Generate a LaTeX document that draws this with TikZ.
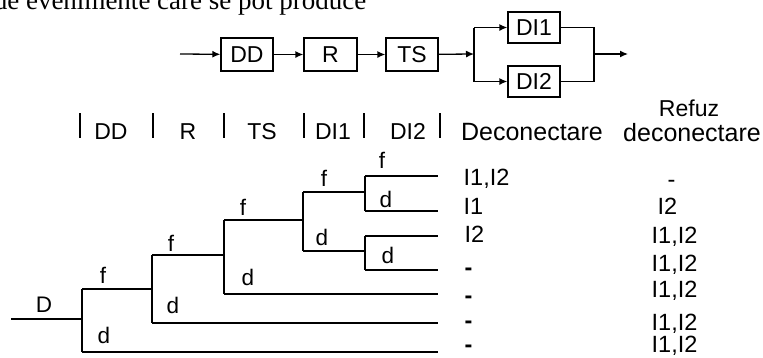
\documentclass[tikz,border=0pt]{standalone}
\usepackage{fontspec}
\setmainfont{Liberation Sans}
\newfontfamily\serifrm{Liberation Serif}
\usetikzlibrary{arrows.meta}
\begin{document}
\begin{tikzpicture}[x=1pt,y=-1pt, line width=1.3pt,
  txt/.style={inner sep=0pt, font=\fontsize{22.5}{24}\selectfont},
  res/.style={inner sep=0pt, anchor=base west, font=\fontsize{23.5}{25}\selectfont},
  hdr/.style={inner sep=0pt, anchor=base, font=\fontsize{23}{25}\selectfont},
  hdrw/.style={inner sep=0pt, anchor=base, font=\fontsize{25}{27}\selectfont},
  blk/.style={draw, minimum height=33pt, minimum width=52pt, inner sep=0pt, font=\fontsize{23}{25}\selectfont},
  blks/.style={blk, minimum height=31pt},
  arr/.style={-{Latex[length=8pt,width=7pt]}},
  sep/.style={line width=1.2pt},
]
\useasboundingbox (0,0) rectangle (763,357);
\clip (0,0) rectangle (763,357);
% title (cut off at the top)
\node[anchor=base east, inner sep=0pt, font=\serifrm\fontsize{27}{30}\selectfont] (title) at (367,9) {de evenimente care se pot produce};
% block diagram
\coordinate (in) at (180,54);
\node[blk] (DD) at (247,54.5) {DD};
\node[blk, minimum width=53pt] (R) at (330.5,54.5) {R};
\node[blk] (TS) at (412,54.5) {TS};
\coordinate (jL) at (474,54);
\coordinate (jLt) at (474,27.5);
\coordinate (jLb) at (474,81.5);
\node[blks] (DI1) at (534,27.5) {DI1};
\node[blks] (DI2) at (534,81.5) {DI2};
\coordinate (jR) at (594,54);
\coordinate (out) at (628,54);
\draw[arr] (in) -- (DD);
\draw[arr] (DD) -- (R);
\draw[arr] (R) -- (TS);
\draw[arr] (TS) -- (jL);
\draw (jLt) -- (jLb);
\draw[arr] (jLt) -- (DI1);
\draw[arr] (jLb) -- (DI2);
\draw (DI1.east) -| (jR);
\draw (DI2.east) -| (jR);
\draw[arr] (jR) -- (out);
% header row
\foreach \x in {80,153,224,304,364,440}{\draw[sep] (\x,113) -- (\x,138);}
\node[hdr] (hDD) at (111,139) {DD};
\node[hdr] (hR) at (188,139) {R};
\node[hdr] (hTS) at (262,139) {TS};
\node[hdr] (hDI1) at (333,139) {DI1};
\node[hdr] (hDI2) at (408,139) {DI2};
\node[hdrw] (hDec) at (532,140) {Deconectare};
\node[hdr] (hRef) at (689,116) {Refuz};
\node[hdrw] (hRef2) at (692,141) {deconectare};
% tree
\coordinate (r0) at (11,319);
\coordinate (v1) at (82,319);
\coordinate (v1t) at (82,289);
\coordinate (v1b) at (82,352);
\coordinate (v2t) at (152,255);
\coordinate (v2b) at (152,323);
\coordinate (v3t) at (224,220);
\coordinate (v3b) at (224,294);
\coordinate (v4t) at (303,192);
\coordinate (v4b) at (303,251);
\coordinate (v5t) at (365,176);
\coordinate (v5b) at (365,211);
\coordinate (v6t) at (365,236);
\coordinate (v6b) at (365,270);
\coordinate (e1) at (438,176);
\coordinate (e2) at (438,211);
\coordinate (e3) at (438,236);
\coordinate (e4) at (438,270);
\coordinate (e5) at (438,294);
\coordinate (e6) at (438,323);
\coordinate (e7) at (438,352);
\draw (r0) -- (v1);
\draw (v1t) -- (v1b);
\draw (v1t) -- (v2t |- v1t);
\draw (v1b) -- (e7);
\draw (v2t) -- (v2b);
\draw (v2t) -- (v3t |- v2t);
\draw (v2b) -- (e6);
\draw (v3t) -- (v3b);
\draw (v3t) -- (v4t |- v3t);
\draw (v3b) -- (e5);
\draw (v4t) -- (v4b);
\draw (v4t) -- (v5t |- v4t);
\draw (v4b) -- (v6t |- v4b);
\draw (v5t) -- (v5b);
\draw (v5t) -- (e1);
\draw (v5b) -- (e2);
\draw (v6t) -- (v6b);
\draw (v6t) -- (e3);
\draw (v6b) -- (e4);
% branch labels
\node[txt] (lD) at (44,305) {D};
\node[txt] (f1) at (103,275) {f};
\node[txt] (d1) at (104,335) {d};
\node[txt] (f2) at (171,243) {f};
\node[txt] (d2) at (173,305) {d};
\node[txt] (f3) at (243,207) {f};
\node[txt] (d3) at (248,277) {d};
\node[txt] (f4) at (324,178) {f};
\node[txt] (d4) at (322,237) {d};
\node[txt] (f5) at (382,160) {f};
\node[txt] (d5) at (386,199) {d};
\node[txt] (d6) at (388,255) {d};
% results: Deconectare
\node[res] (a1) at (463,185) {I1,I2};
\node[res] (a2) at (463,214) {I1};
\node[res] (a3) at (464,242) {I2};
\node[res] (a4) at (464,275) {\textbf{-}};
\node[res] (a5) at (464,303) {\textbf{-}};
\node[res] (a6) at (464,328) {\textbf{-}};
\node[res] (a7) at (464,352) {\textbf{-}};
% results: Refuz deconectare
\node[res] (b1) at (667,187) {-};
\node[res] (b2) at (657,214) {I2};
\node[res] (b3) at (651,243) {I1,I2};
\node[res] (b4) at (651,271) {I1,I2};
\node[res] (b5) at (651,297) {I1,I2};
\node[res] (b6) at (651,330) {I1,I2};
\node[res] (b7) at (651,352) {I1,I2};
\end{tikzpicture}
\end{document}
